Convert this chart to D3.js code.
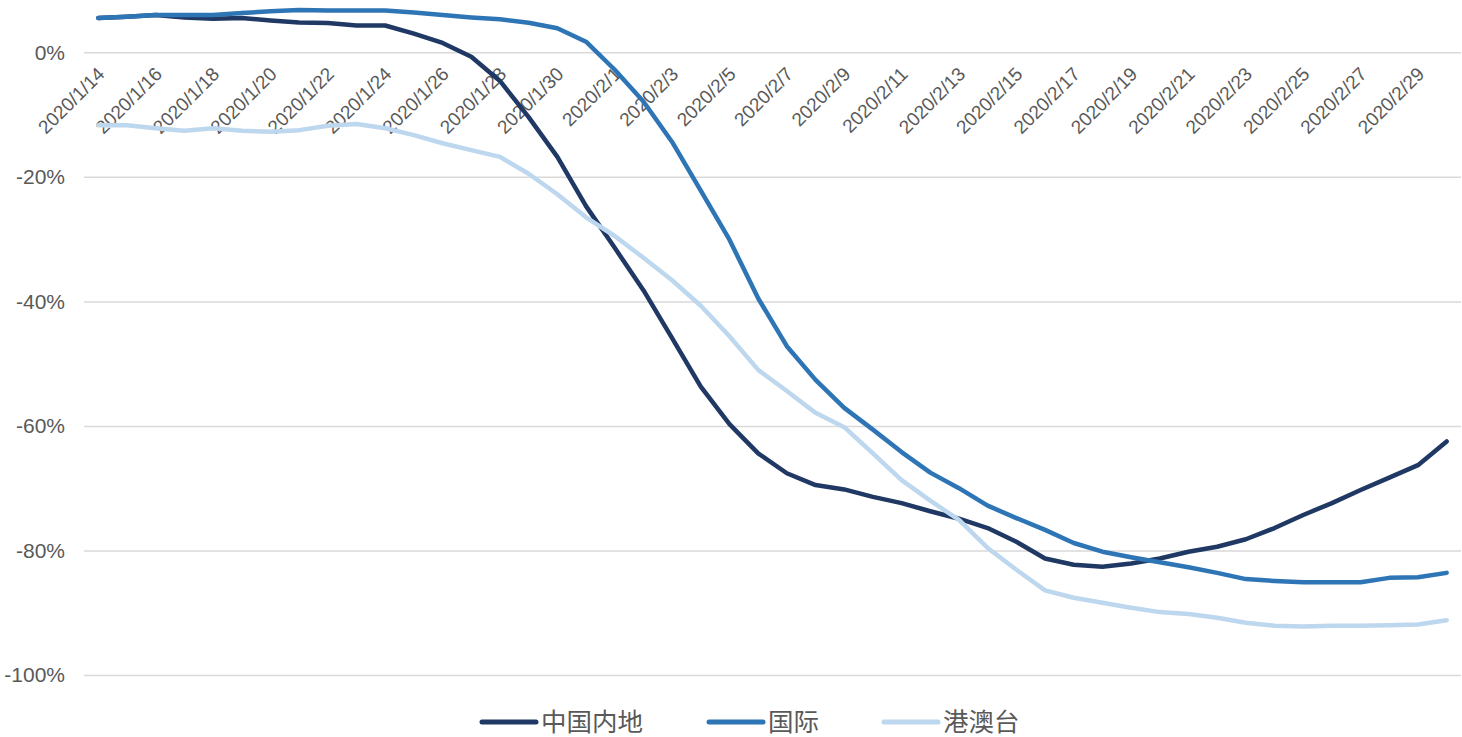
<!DOCTYPE html>
<html>
<head>
<meta charset="utf-8">
<script src="https://cdn.jsdelivr.net/npm/d3@7"></script>
<style>
  html, body { margin: 0; padding: 0; background: #fff; }
  #chart { width: 1462px; height: 737px; }
</style>
</head>
<body>
<div id="chart"></div>
<script>
// Daily change vs baseline, three traveller groups, 2020/1/14 - 2020/3/1

const dates = [
  "2020/1/14", "2020/1/15", "2020/1/16", "2020/1/17", "2020/1/18", "2020/1/19",
  "2020/1/20", "2020/1/21", "2020/1/22", "2020/1/23", "2020/1/24", "2020/1/25",
  "2020/1/26", "2020/1/27", "2020/1/28", "2020/1/29", "2020/1/30", "2020/1/31",
  "2020/2/1", "2020/2/2", "2020/2/3", "2020/2/4", "2020/2/5", "2020/2/6",
  "2020/2/7", "2020/2/8", "2020/2/9", "2020/2/10", "2020/2/11", "2020/2/12",
  "2020/2/13", "2020/2/14", "2020/2/15", "2020/2/16", "2020/2/17", "2020/2/18",
  "2020/2/19", "2020/2/20", "2020/2/21", "2020/2/22", "2020/2/23", "2020/2/24",
  "2020/2/25", "2020/2/26", "2020/2/27", "2020/2/28", "2020/2/29", "2020/3/1"
];

const mainland = [
  5.5, 5.7, 6.0, 5.6, 5.4, 5.5, 5.1, 4.8, 4.7, 4.3, 4.3, 3.0,
  1.5, -0.7, -4.6, -10.4, -16.8, -24.7, -31.4, -38.2, -45.9, -53.7, -59.7, -64.4,
  -67.6, -69.5, -70.2, -71.4, -72.4, -73.7, -74.9, -76.4, -78.6, -81.3, -82.3, -82.6,
  -82.1, -81.3, -80.2, -79.4, -78.2, -76.4, -74.3, -72.4, -70.3, -68.3, -66.3, -62.5
];

const international = [
  5.5, 5.7, 6.0, 6.0, 6.0, 6.3, 6.6, 6.8, 6.7, 6.7, 6.7, 6.4,
  6.0, 5.6, 5.3, 4.75, 3.85, 1.7, -2.8, -7.9, -14.4, -22.2, -30.1, -39.5,
  -47.2, -52.6, -57.1, -60.6, -64.2, -67.5, -70.0, -72.8, -74.8, -76.7, -78.8, -80.2,
  -81.1, -81.9, -82.7, -83.6, -84.6, -84.9, -85.1, -85.1, -85.1, -84.4, -84.3, -83.6
];

const hkMacaoTaiwan = [
  -11.7, -11.7, -12.2, -12.6, -12.2, -12.6, -12.75, -12.5, -11.8, -11.5, -12.2, -13.3,
  -14.6, -15.7, -16.8, -19.5, -22.8, -26.5, -29.5, -33.0, -36.6, -40.7, -45.6, -51.0,
  -54.4, -57.9, -60.2, -64.4, -68.7, -72.0, -75.1, -79.6, -83.1, -86.4, -87.6, -88.4,
  -89.2, -89.9, -90.2, -90.8, -91.6, -92.1, -92.2, -92.1, -92.1, -92.0, -91.9, -91.2
];

const seriesNames = ["中国内地", "国际", "港澳台"];
const seriesValues = [mainland, international, hkMacaoTaiwan];
const yTicks = [0, -20, -40, -60, -80, -100];

const colors = ["#203864", "#2E75B6", "#BDD7EE"];
const w = 1462, h = 737;
const margin = { left: 84, right: 1, top: 52.3, bottom: 675 };
const font = "'Liberation Sans', 'Noto Sans CJK SC', sans-serif";

const x = d3.scalePoint()
  .domain(dates)
  .range([margin.left, w - margin.right])
  .padding(0.5);
const y = d3.scaleLinear()
  .domain([-100, 0])
  .range([margin.bottom, margin.top]);

const svg = d3.select("#chart").append("svg")
  .attr("width", w).attr("height", h)
  .attr("viewBox", `0 0 ${w} ${h}`);

// gridlines + y labels
svg.append("g")
  .attr("transform", `translate(${margin.left}, 0)`)
  .call(d3.axisLeft(y).tickValues(yTicks).tickSize(-(w - margin.left - margin.right)).tickPadding(19).tickFormat((d) => `${d}%`))
  .call((g) => g.select(".domain").remove())
  .call((g) => g.selectAll(".tick line").attr("stroke", "#D9D9D9").attr("stroke-width", 1.5))
  .call((g) => g.selectAll(".tick text")
    .attr("fill", "#595959").attr("font-size", 21).attr("font-family", font));

// x labels (every 2nd day), rotated, hanging below the 0% line
svg.append("g")
  .attr("transform", `translate(0, ${y(0)})`)
  .call(d3.axisBottom(x).tickValues(dates.filter((d, i) => i % 2 === 0)).tickSize(0))
  .call((g) => g.select(".domain").remove())
  .call((g) => g.selectAll(".tick text")
    .attr("fill", "#595959").attr("font-size", 19).attr("font-family", font)
    .attr("text-anchor", "end")
    .attr("dy", null).attr("y", 0)
    .attr("transform", "translate(7, 23) rotate(-45)"));

// lines
const line = d3.line()
  .x((d, i) => x(dates[i]))
  .y((d) => y(d));

svg.append("g")
  .selectAll("path")
  .data(seriesValues)
  .join("path")
  .attr("d", line)
  .attr("fill", "none")
  .attr("stroke", (d, i) => colors[i])
  .attr("stroke-width", 4.5)
  .attr("stroke-linejoin", "round")
  .attr("stroke-linecap", "round");

// legend
const legendX = [482, 709, 884];
const lg = svg.append("g").attr("transform", "translate(0, 722)");
const item = lg.selectAll("g").data(seriesNames).join("g")
  .attr("transform", (d, i) => `translate(${legendX[i]}, 0)`);
item.append("line")
  .attr("x1", 0).attr("x2", 54)
  .attr("stroke", (d, i) => colors[i])
  .attr("stroke-width", 5)
  .attr("stroke-linecap", "round");
item.append("text")
  .attr("x", 59)
  .attr("dy", "0.36em")
  .attr("fill", "#595959")
  .attr("font-size", 25.5)
  .attr("font-family", "'Noto Sans CJK SC', sans-serif")
  .text((d) => d);
</script>
</body>
</html>
